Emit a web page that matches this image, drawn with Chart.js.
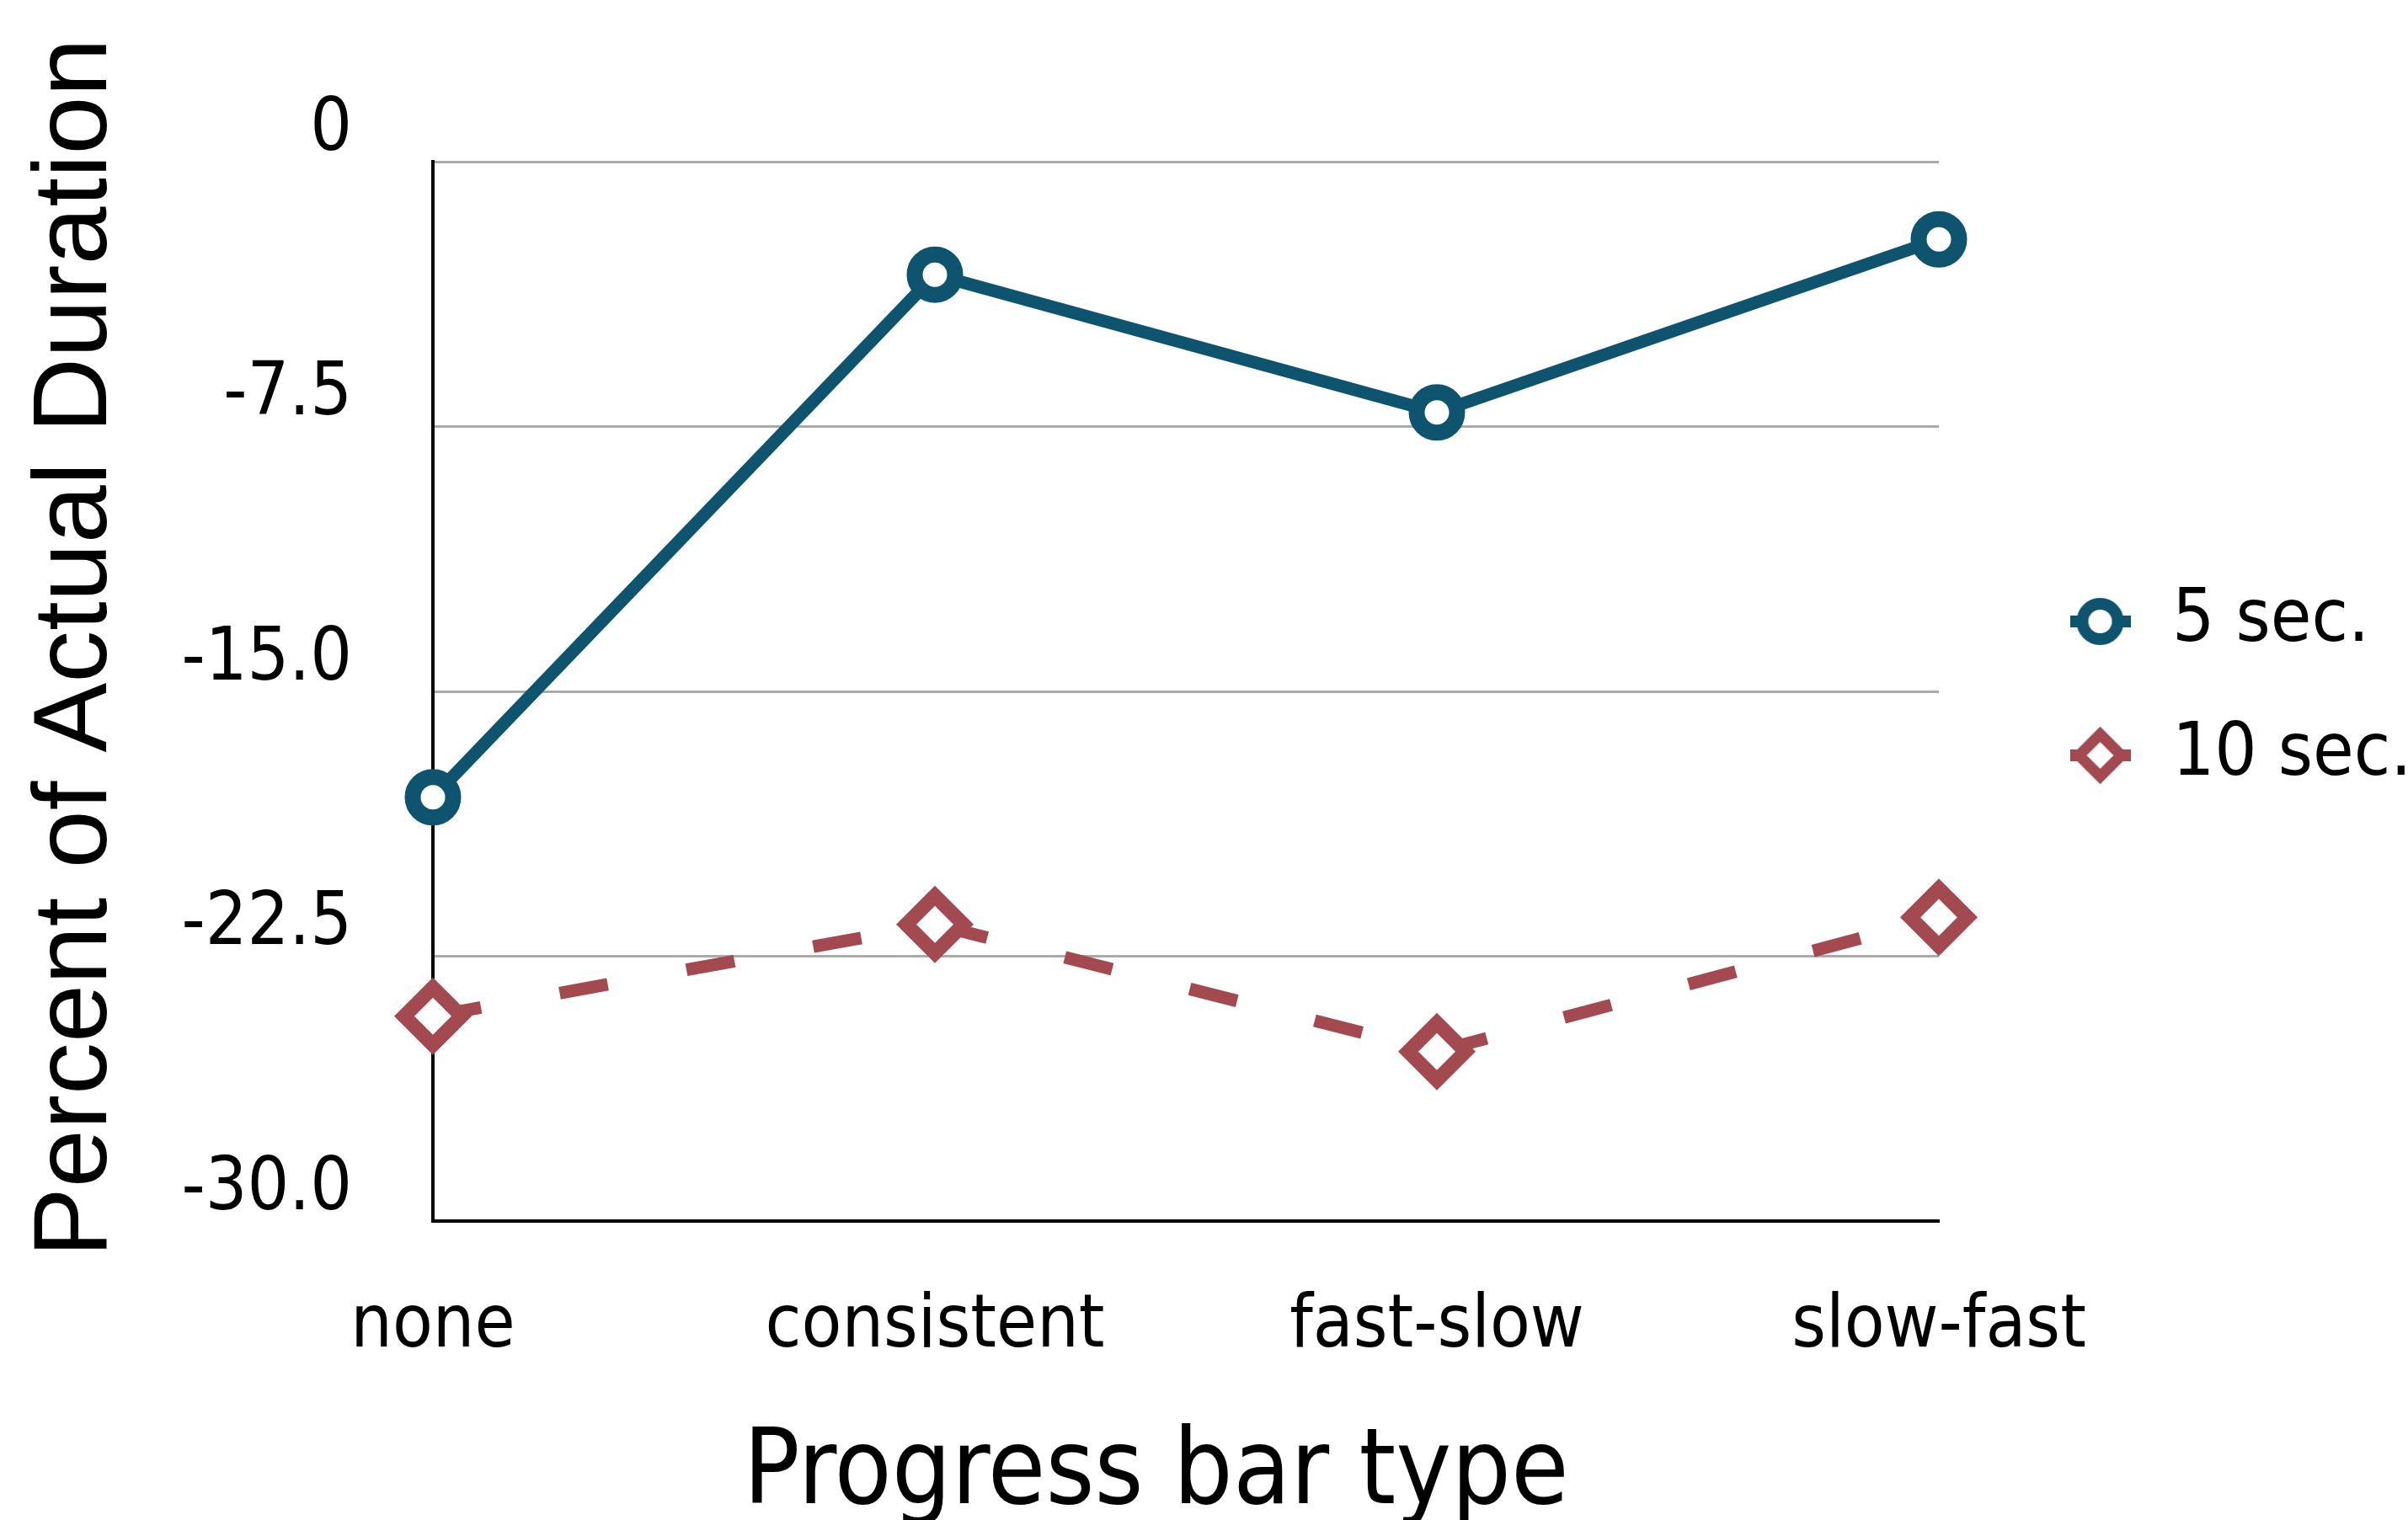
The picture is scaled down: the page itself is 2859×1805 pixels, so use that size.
<!DOCTYPE html>
<html>
<head>
<meta charset="utf-8">
<script src="https://cdn.jsdelivr.net/npm/chart.js@4.4.1/dist/chart.umd.min.js"></script>
<style>
  html, body { margin: 0; padding: 0; background: #fff; }
  #chart { display: block; }
</style>
</head>
<body>
<canvas id="chart" width="2859" height="1805"></canvas>
<script>
// data
var categories = ['none', 'consistent', 'fast-slow', 'slow-fast'];
var fiveSec = [-18.0, -3.2, -7.1, -2.2];
var tenSec = [-24.2, -21.6, -25.2, -21.4];
var seriesNames = ['5 sec.', '10 sec.'];
var yTicks = [0, -7.5, -15, -22.5, -30];

var blue = '#0e546e';
var red = '#a34a50';
var narrow = "'Liberation Sans Narrow', 'DejaVu Sans Condensed', 'Roboto Condensed', sans-serif";

// legend icon: short line stub with the marker on top
function legendIcon(style, color, radius, width) {
    var c = document.createElement('canvas');
    c.width = 72;
    c.height = 72;
    var ctx = c.getContext('2d');
    ctx.fillStyle = color;
    ctx.fillRect(0, 29, 72, 14);
    ctx.fillStyle = '#fff';
    ctx.strokeStyle = color;
    ctx.lineWidth = width;
    Chart.helpers.drawPoint(ctx, { pointStyle: style, radius: radius, rotation: 0, borderWidth: width }, 36, 36);
    return c;
}
var icons = [legendIcon('circle', blue, 21, 14), legendIcon('rectRot', red, 25, 13)];

// pin the legend where the reference has it
var legendSpot = {
    id: 'legendSpot',
    afterInit: function(chart) {
        var lg = chart.legend;
        var fit = lg.fit;
        lg.fit = function() {
            fit.call(this);
            this.width = 557;
        };
    },
    afterLayout: function(chart) {
        var lg = chart.legend;
        lg.left = 2381;
        lg.right = chart.width;
        lg.top = 623;
        lg.bottom = chart.height;
    }
};

var ctx = document.getElementById('chart').getContext('2d');
var chart = new Chart(ctx, {
    type: 'line',
    data: {
        labels: categories,
        datasets: [{
            label: seriesNames[0],
            data: fiveSec,
            borderColor: blue,
            borderWidth: 15,
            pointStyle: 'circle',
            pointRadius: 24,
            pointBorderWidth: 19,
            pointBackgroundColor: '#fff',
            pointBorderColor: blue,
            tension: 0,
            clip: false
        }, {
            label: seriesNames[1],
            data: tenSec,
            borderColor: red,
            borderWidth: 15,
            borderDash: [58, 95],
            pointStyle: 'rectRot',
            pointRadius: 34,
            pointBorderWidth: 17,
            pointBackgroundColor: '#fff',
            pointBorderColor: red,
            tension: 0,
            clip: false
        }]
    },
    options: {
        responsive: false,
        animation: false,
        devicePixelRatio: 1,
        layout: { padding: { top: 192, left: 0, right: 0, bottom: 0 } },
        plugins: {
            tooltip: { enabled: false },
            legend: {
                position: 'right',
                align: 'start',
                labels: {
                    usePointStyle: true,
                    pointStyleWidth: 83,
                    padding: 71,
                    color: '#000',
                    font: { family: narrow, size: 88, lineHeight: 1 },
                    generateLabels: function(chart) {
                        return chart.data.datasets.map(function(ds, i) {
                            return {
                                text: ds.label,
                                pointStyle: icons[i],
                                fillStyle: '#fff',
                                strokeStyle: ds.borderColor,
                                lineWidth: 0,
                                datasetIndex: i
                            };
                        });
                    }
                }
            }
        },
        scales: {
            x: {
                offset: false,
                grid: { display: false, drawTicks: false },
                border: { display: true, color: '#000', width: 4 },
                ticks: { color: '#000', padding: 74, font: { family: narrow, size: 87 } },
                title: {
                    display: true,
                    text: 'Progress bar type  ',
                    color: '#000',
                    font: { family: narrow, size: 124, lineHeight: 0.85 },
                    padding: { top: 0, bottom: 0 }
                },
                afterFit: function(s) { s.height = 355; }
            },
            y: {
                min: -30,
                max: 0,
                afterBuildTicks: function(s) {
                    s.ticks = yTicks.map(function(v) { return { value: v }; });
                },
                grid: { color: '#aaaaaa', lineWidth: 3, drawTicks: false },
                border: { display: true, color: '#000', width: 4 },
                ticks: {
                    color: '#000',
                    padding: 96,
                    labelOffset: -37,
                    font: { family: narrow, size: 87 },
                    callback: function(v) { return v === 0 ? '0' : v.toFixed(1); }
                },
                title: {
                    display: true,
                    text: '   Percent of Actual Duration',
                    color: '#000',
                    font: { family: "'Liberation Sans', Arial, sans-serif", size: 124, lineHeight: 1 },
                    padding: { top: 30, bottom: 0 }
                },
                afterFit: function(s) { s.width = 514; }
            }
        }
    },
    plugins: [legendSpot]
});
</script>
</body>
</html>
